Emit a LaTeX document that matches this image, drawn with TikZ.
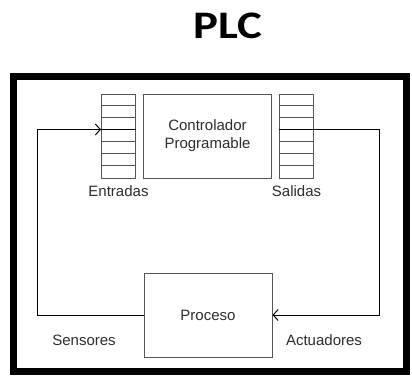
\documentclass[tikz,border=0pt]{standalone}
\usepackage{fontspec}
\setmainfont{Liberation Sans}
\newfontfamily\titlefont{Carlito}
\usetikzlibrary{arrows.meta,positioning,calc}
\definecolor{boxgray}{RGB}{85,85,85}
\definecolor{textgray}{RGB}{45,45,45}

\begin{document}
\begin{tikzpicture}[x=1pt, y=-1pt]
    \tikzstyle{block} = [rectangle, draw=boxgray, line width=1pt, minimum width=128pt, minimum height=84pt, text=textgray, font=\fontsize{15}{18}\selectfont, align=center, inner sep=0pt]
    \tikzstyle{reg} = [rectangle, draw=boxgray, line width=1pt, minimum width=34pt, minimum height=84pt, inner sep=0pt]
    \tikzstyle{lbl} = [text=textgray, font=\fontsize{15}{18}\selectfont]
    \tikzstyle{arrow} = [line width=1pt, -{Straight Barb[length=5pt,width=11pt]}]
    \useasboundingbox (0,0) rectangle (412,375);

    % Title and frame
    \node[font=\titlefont\bfseries\fontsize{39}{40}\selectfont, anchor=base] (title) at (228,38) {\scalebox{1.2}[1]{PLC}};
    \draw[line width=7pt] (13.5,76) rectangle (406.5,371);

    % Controller with input and output registers
    \node[block] (ctrl) at (207.5,136) {Controlador\\Programable};
    \node[reg, left=7pt of ctrl] (inreg) {};
    \node[reg, right=7pt of ctrl] (outreg) {};
    \foreach \i in {1,2,4,5,6} {
        \draw[boxgray, line width=1pt] ($(inreg.north west)+(0,12*\i)$) -- +(34,0);
        \draw[boxgray, line width=1pt] ($(outreg.north west)+(0,12*\i)$) -- +(34,0);
    }
    \node[lbl, below=4pt of inreg] (inlbl) {Entradas};
    \node[lbl, below=4pt of outreg] (outlbl) {Salidas};

    % Process
    \node[block] (proc) at (208,315) {Proceso};
    \node[lbl] (sens) at (84,340) {Sensores};
    \node[lbl] (act) at (324,340) {Actuadores};

    % Loop
    \coordinate (inpt) at ($(inreg.north west)+(0,36)$);
    \coordinate (outpt) at ($(outreg.north east)+(0,36)$);
    \coordinate (lc) at (37,315);
    \coordinate (rc) at (379,315);
    \draw[line width=1pt] (inpt) -- (inreg.east |- inpt);
    \draw[line width=1pt] (outreg.west |- outpt) -- (outpt);
    \draw[arrow] (proc.west) -- (lc) |- (inpt);
    \draw[arrow] (outpt) -| (rc) -- (proc.east);
\end{tikzpicture}
\end{document}
